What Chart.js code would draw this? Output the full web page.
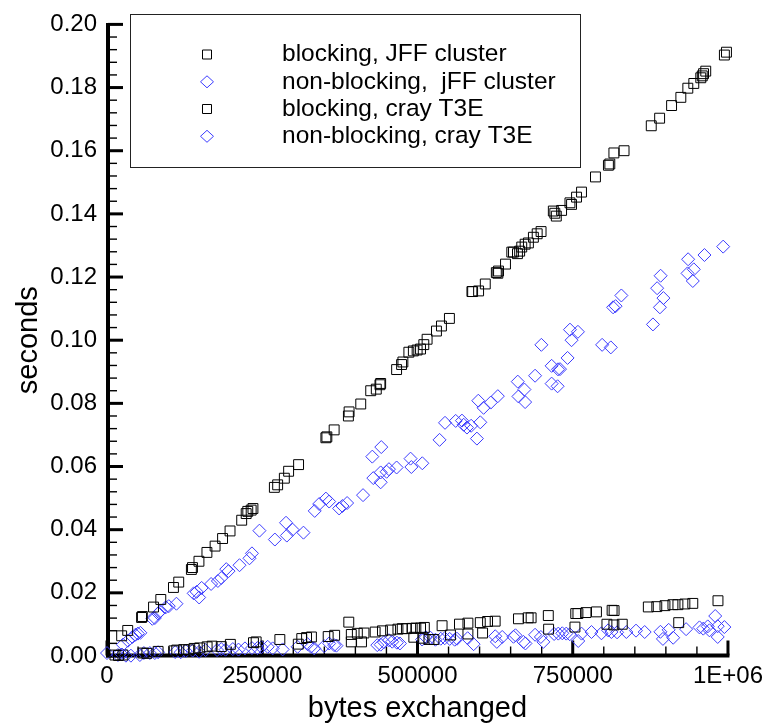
<!DOCTYPE html>
<html>
<head>
<meta charset="utf-8">
<script src="https://cdn.jsdelivr.net/npm/chart.js@4/dist/chart.umd.min.js"></script>
<style>
  html, body { margin: 0; padding: 0; background: #fff; }
  #wrap { width: 769px; height: 726px; }
</style>
</head>
<body>
<div id="wrap"><canvas id="c" width="769" height="726"></canvas></div>
<script>
// Message size (bytes) and wall time (seconds) for each run.
const jffBlockingBytes = [23584,33370,55670,56955,74924,86637,107013,115517,135893,137658,
  148082,160918,174076,186110,198143,216914,224133,226700,232155,235043,
  269533,274827,285578,292477,308520,352480,354085,365797,388739,389862,
  408633,424677,433662,439597,440720,466390,474412,476498,486124,493344,
  499440,504896,510190,515485,530565,538587,551422,587680,588803,598430,
  609179,626987,629393,630516,641746,651853,654581,660998,664529,667897,
  673352,678647,686669,692765,699022,718755,721161,723568,732071,745547,
  748114,756136,764158,786620,807478,809724,816302,832666,876466,889942,
  909195,924116,935346,944972,956204,958611,960697,964226,994228,997597];
const jffBlockingSec = [0.0064,0.0081,0.0122,0.0125,0.0155,0.0179,0.0217,0.0234,0.0274,0.0280,
  0.0300,0.0328,0.0348,0.0372,0.0396,0.0430,0.0451,0.0458,0.0462,0.0467,
  0.0534,0.0542,0.0563,0.0585,0.0606,0.0691,0.0694,0.0716,0.0760,0.0773,
  0.0798,0.0840,0.0845,0.0859,0.0863,0.0907,0.0923,0.0931,0.0962,0.0966,
  0.0969,0.0972,0.0986,0.1003,0.1029,0.1045,0.1069,0.1154,0.1154,0.1156,
  0.1178,0.1214,0.1212,0.1219,0.1241,0.1279,0.1279,0.1274,0.1282,0.1295,
  0.1304,0.1308,0.1326,0.1337,0.1344,0.1409,0.1402,0.1393,0.1411,0.1435,
  0.1430,0.1453,0.1469,0.1517,0.1554,0.1558,0.1593,0.1600,0.1679,0.1703,
  0.1743,0.1769,0.1798,0.1813,0.1831,0.1837,0.1844,0.1852,0.1903,0.1912];

const jffNonBlockingBytes = [25670,33692,40911,45724,49735,53746,72998,77009,82303,85031,
  94657,99470,111824,139579,144392,148403,152414,167656,178565,184020,
  192042,195732,213380,229423,233434,245467,270335,288303,289587,298892,
  316380,334509,341729,352478,357772,373816,379111,386651,412320,427241,
  441680,428845,440717,440717,450343,454033,466387,488849,490132,507780,
  535535,544359,561526,571633,574361,579655,586393,601153,595699,597945,
  606448,618000,629391,661478,662601,672227,673350,689394,699501,716026,
  726294,729502,716026,725652,741696,745547,758381,748114,797367,811326,
  815016,819027,828332,879189,885927,891542,896035,890419,935827,944972,
  934865,943369,962140,992301];
const jffNonBlockingSec = [0.00359,0.00484,0.00603,0.00672,0.00709,0.00734,0.01178,0.01203,0.01344,0.01406,
  0.01541,0.01578,0.01656,0.01984,0.02031,0.01853,0.02156,0.02281,0.02375,0.02469,
  0.0275,0.02688,0.02875,0.03094,0.0325,0.03969,0.03688,0.04219,0.03813,0.04,
  0.03906,0.04594,0.04813,0.04984,0.04891,0.04672,0.0475,0.04844,0.05094,0.06313,
  0.06616,0.05634,0.055,0.05813,0.05834,0.05916,0.05969,0.0625,0.05984,0.06103,
  0.06844,0.07384,0.07444,0.07453,0.07322,0.07234,0.07291,0.074,0.06884,0.08084,
  0.07859,0.08025,0.08228,0.08688,0.08219,0.08438,0.08041,0.08875,0.09853,0.09188,
  0.09078,0.09084,0.08625,0.08541,0.09438,0.10334,0.10266,0.1,0.09853,0.09772,
  0.11041,0.11078,0.11416,0.105,0.11647,0.12041,0.11334,0.11041,0.12563,0.12244,
  0.12116,0.11875,0.12697,0.12963];

const crayBlockingBytes = [12835,18452,25670,58238,64177,82303,107520,112328,123559,131581,
  140266,149228,161228,169252,184021,198668,235855,240189,278360,308039,
  313654,321357,329215,356172,366599,389382,393417,393417,403159,409851,
  413830,431813,443573,456734,468534,475433,482171,491477,497412,504954,
  511050,494084,508593,518446,526468,539622,553100,567606,581230,581230,
  601122,612837,625100,604856,662625,678184,683006,710675,711156,754845,
  758374,771369,788218,753561,813410,816618,805070,816298,829783,871739,
  885374,898537,911371,919393,930627,943356,920677,983906];
const crayBlockingSec = [0.00031,0.00016,0.00031,0.00094,0.00084,0.00147,0.00163,0.00188,0.00203,0.00194,
  0.00241,0.00256,0.00291,0.00313,0.00297,0.00369,0.00422,0.00447,0.00522,0.00375,
  0.00553,0.00584,0.00603,0.00616,0.00656,0.01072,0.00681,0.00447,0.00719,0.00447,
  0.00728,0.00759,0.00797,0.00822,0.0085,0.00866,0.00866,0.00875,0.00884,0.00884,
  0.00906,0.00594,0.00563,0.00522,0.00522,0.00959,0.00666,0.01009,0.01041,0.00697,
  0.01056,0.01094,0.01103,0.00728,0.01178,0.01209,0.01209,0.01281,0.0085,0.01344,
  0.01344,0.01375,0.01397,0.00916,0.01447,0.01438,0.01006,0.00984,0.01006,0.01553,
  0.01563,0.01594,0.01625,0.01625,0.01647,0.01666,0.01056,0.0175];

const crayNonBlockingBytes = [0,17648,24065,30483,38505,52944,59361,68987,77009,82303,
  109898,118723,126744,137975,148403,158832,177282,184020,190919,202630,
  211776,222204,233434,242258,248676,258783,266805,282848,306914,322957,
  328412,333707,349750,357772,365794,369484,435261,440717,446013,454034,
  459328,466869,471682,507457,513395,520935,528957,537461,543878,551900,
  559922,563612,580778,590404,625220,627787,636451,654576,657785,670620,
  673829,689390,698695,702706,720033,726770,733188,739605,745220,758862,
  764158,780201,796245,806993,812289,821432,836356,851917,865875,891225,
  895233,904540,911759,932616,954113,960214,967429,970157,979464,983475,
  983475,994224];
const crayNonBlockingSec = [0.00094,0.00031,0.00047,0.0001,0.0001,0.00031,0.00094,0.00094,0.00094,0.00119,
  0.00125,0.00119,0.00156,0.00172,0.00134,0.00188,0.00188,0.00219,0.002,0.00219,
  0.00203,0.00241,0.0025,0.0025,0.00281,0.00291,0.00241,0.00209,0.00291,0.00375,
  0.00291,0.00241,0.00313,0.00397,0.00344,0.00328,0.00344,0.00359,0.00438,0.005,
  0.00453,0.00422,0.00397,0.00522,0.00594,0.00578,0.00516,0.00547,0.00563,0.00541,
  0.00516,0.00547,0.00563,0.00375,0.00625,0.00447,0.00603,0.00609,0.00656,0.00447,
  0.00397,0.00672,0.00603,0.00447,0.00697,0.00709,0.00719,0.00709,0.00688,0.00475,
  0.00709,0.00759,0.00719,0.00813,0.00759,0.0075,0.00759,0.00803,0.00759,0.00766,
  0.00541,0.00828,0.00578,0.0085,0.00906,0.00866,0.00938,0.00813,0.01266,0.00944,
  0.00603,0.00916];

const seriesLabels = ['blocking, JFF cluster', 'non-blocking,  jFF cluster', 'blocking, cray T3E', 'non-blocking, cray T3E'];
const xTickValues = [0, 250000, 500000, 750000, 1000000];
const xTickLabels = ['0', '250000', '500000', '750000', '1E+06'];
const yTickValues = [0, 0.02, 0.04, 0.06, 0.08, 0.10, 0.12, 0.14, 0.16, 0.18, 0.20];
const yTickLabels = yTickValues.map(v => v.toFixed(2));

const FONT = "'Liberation Sans', Arial, Helvetica, sans-serif";
const BLACK = '#000000';
const BLUE = '#3c3cff';

function pairs(xs, ys) { return xs.map((x, i) => ({ x: x, y: ys[i] })); }

function squareSet(label, xs, ys) {
  return { label, data: pairs(xs, ys), pointStyle: 'rect', pointRadius: 7,
    borderColor: BLACK, backgroundColor: 'rgba(0,0,0,0)', borderWidth: 1, clip: false };
}
function diamondSet(label, xs, ys) {
  return { label, data: pairs(xs, ys), pointStyle: 'rectRot', pointRadius: 6.5,
    borderColor: BLUE, backgroundColor: 'rgba(0,0,0,0)', borderWidth: 1, clip: false };
}

// Inward-facing axes with major and minor ticks
const framePlugin = {
  id: 'frameAxes',
  beforeDatasetsDraw(chart) {
    const { ctx, chartArea: a, scales: { x, y } } = chart;
    const ax = a.left + 1, ay = a.bottom - 0.5;
    const seg = (x1, y1, x2, y2) => { ctx.beginPath(); ctx.moveTo(x1, y1); ctx.lineTo(x2, y2); ctx.stroke(); };
    ctx.save();
    ctx.strokeStyle = '#000';
    ctx.lineCap = 'butt';
    // minor ticks
    ctx.lineWidth = 1.4;
    for (let i = 0; i <= 50; i++) {
      const py = y.getPixelForValue(i * 0.004);
      seg(ax, py, ax + 9, py);
    }
    for (let i = 0; i <= 20; i++) {
      const px = x.getPixelForValue(i * 50000);
      seg(px, ay, px, ay - 9);
    }
    // major ticks
    ctx.lineWidth = 3;
    yTickValues.forEach(v => { const py = y.getPixelForValue(v); seg(ax, py, ax + 15, py); });
    xTickValues.forEach(v => { const px = x.getPixelForValue(v); seg(px, ay, px, ay - 15); });
    // axis lines
    ctx.lineWidth = 4;
    seg(ax, ay + 2, ax, a.top - 1.5);
    seg(ax - 2, ay, a.right + 1.5, ay);
    ctx.restore();
  }
};

// Boxed legend in the upper left of the plot
const legendBoxPlugin = {
  id: 'legendBox',
  afterDraw(chart) {
    const { ctx } = chart;
    ctx.save();
    ctx.strokeStyle = '#222';
    ctx.lineWidth = 1;
    ctx.strokeRect(130.5, 14.5, 450, 153);
    const rows = [54.5, 81.8, 109, 136.3];
    ctx.font = '24.5px ' + FONT;
    ctx.textBaseline = 'middle';
    ctx.textAlign = 'left';
    chart.data.datasets.forEach((ds, i) => {
      const cy = rows[i], cx = 207;
      ctx.strokeStyle = ds.borderColor;
      ctx.lineWidth = 1;
      ctx.beginPath();
      if (ds.pointStyle === 'rect') {
        ctx.rect(cx - 4.5, cy - 4.5, 9, 9);
      } else {
        ctx.moveTo(cx - 6.5, cy); ctx.lineTo(cx, cy - 6); ctx.lineTo(cx + 6.5, cy); ctx.lineTo(cx, cy + 6); ctx.closePath();
      }
      ctx.stroke();
      ctx.fillStyle = '#000';
      ctx.fillText(ds.label, 282, cy);
    });
    ctx.restore();
  }
};

new Chart(document.getElementById('c'), {
  type: 'scatter',
  data: {
    datasets: [
      squareSet(seriesLabels[0], jffBlockingBytes, jffBlockingSec),
      diamondSet(seriesLabels[1], jffNonBlockingBytes, jffNonBlockingSec),
      squareSet(seriesLabels[2], crayBlockingBytes, crayBlockingSec),
      diamondSet(seriesLabels[3], crayNonBlockingBytes, crayNonBlockingSec)
    ]
  },
  options: {
    responsive: false,
    animation: false,
    events: [],
    layout: { padding: { left: 0, top: 16, right: 38, bottom: 0 } },
    plugins: { legend: { display: false }, tooltip: { enabled: false } },
    scales: {
      x: {
        type: 'linear', min: 0, max: 1000000,
        afterFit(s) { s.height = 70; },
        afterBuildTicks(s) { s.ticks = xTickValues.map(v => ({ value: v })); },
        grid: { display: false, drawTicks: false },
        border: { display: false },
        ticks: {
          padding: 6, color: '#000', font: { family: FONT, size: 24 }, maxRotation: 0,
          callback: (v) => { const i = xTickValues.indexOf(v); return i >= 0 ? xTickLabels[i] : ''; }
        },
        title: { display: true, text: 'bytes exchanged', color: '#000', font: { family: FONT, size: 29 }, padding: { top: 0, bottom: 0 } }
      },
      y: {
        type: 'linear', min: 0, max: 0.2,
        afterFit(s) { s.width = 107; },
        afterBuildTicks(s) { s.ticks = yTickValues.map(v => ({ value: v })); },
        grid: { display: false, drawTicks: false },
        border: { display: false },
        ticks: {
          padding: 10, color: '#000', font: { family: FONT, size: 24 },
          callback: (v) => { const i = yTickValues.findIndex(t => Math.abs(t - v) < 1e-9); return i >= 0 ? yTickLabels[i] : ''; }
        },
        title: { display: true, text: 'seconds', color: '#000', font: { family: FONT, size: 29 }, padding: { top: 12, bottom: 0 } }
      }
    }
  },
  plugins: [framePlugin, legendBoxPlugin]
});
</script>
</body>
</html>
